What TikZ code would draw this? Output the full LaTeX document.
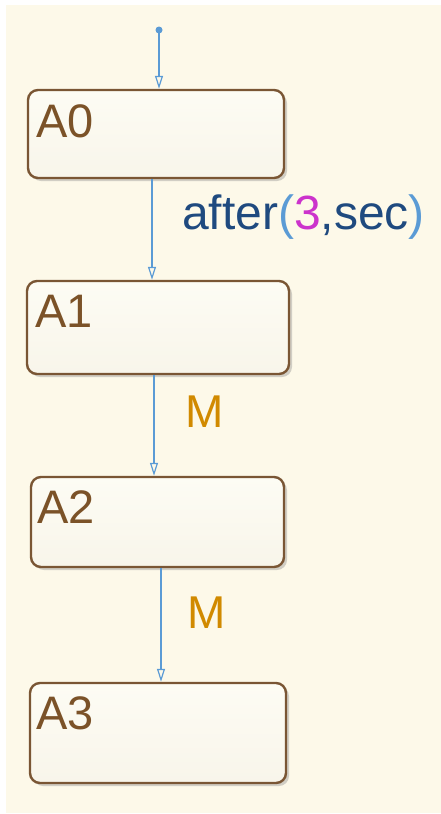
\documentclass[tikz,border=0pt]{standalone}
\usepackage{fontspec}
\setmainfont{Liberation Sans}
\usetikzlibrary{arrows.meta,shadows,calc}
\definecolor{bg}{HTML}{FDF9E9}
\definecolor{boxline}{HTML}{7A5634}
\definecolor{boxtop}{HTML}{FDFCF4}
\definecolor{boxbot}{HTML}{F8F5EA}
\definecolor{stxt}{HTML}{7B5228}
\definecolor{trans}{HTML}{5B9BD5}
\definecolor{lblue}{HTML}{1F4A7F}
\definecolor{lpar}{HTML}{5B9BD5}
\definecolor{lnum}{HTML}{CC33CC}
\definecolor{lorange}{HTML}{D18A00}
\tikzset{
  statebox/.style={draw=boxline, line width=2.4pt, rounded corners=10pt,
    top color=boxtop, bottom color=boxbot,
    drop shadow={opacity=0.35, shadow xshift=3pt, shadow yshift=-3pt},
    inner sep=0pt},
  statename/.style={anchor=base west, inner sep=0pt, text=stxt,
    font=\fontsize{47}{47}\selectfont},
  tr/.style={draw=trans, line width=1.4pt, -{Triangle[open, length=13pt, width=8pt, line width=1.2pt]}},
  tlabel/.style={anchor=base west, inner sep=0pt, font=\fontsize{46}{46}\selectfont}
}
\begin{document}
\begin{tikzpicture}[x=1pt, y=-1pt]
\useasboundingbox (0,0) rectangle (441,814);
\fill[white] (0,0) rectangle (441,814);
\fill[bg] (6,5) rectangle (441,813);
% states
\node[statebox, minimum width=256pt, minimum height=88pt] (a0) at (156,134) {};
\node[statebox, minimum width=262pt, minimum height=93pt] (a1) at (158,327.5) {};
\node[statebox, minimum width=253pt, minimum height=90pt] (a2) at (157.5,522) {};
\node[statebox, minimum width=256pt, minimum height=100pt] (a3) at (158,733) {};
\node[statename] (a0t) at (36,137) {A0};
\node[statename] (a1t) at (35,327) {A1};
\node[statename] (a2t) at (37,523) {A2};
\node[statename] (a3t) at (36,729) {A3};
% default transition
\node[circle, fill=trans, inner sep=0pt, minimum size=7pt] (dot) at (159,30) {};
\draw[tr] (dot.center) -- (159,0 |- a0.north);
% transitions
\draw[tr] (152,0 |- a0.south) -- (152,0 |- a1.north);
\draw[tr] (154,0 |- a1.south) -- (154,0 |- a2.north);
\draw[tr] (161,0 |- a2.south) -- (161,0 |- a3.north);
% labels
\node[tlabel, font=\fontsize{48}{48}\selectfont] (l1) at (182,229) {\textcolor{lblue}{after}\textcolor{lpar}{(}\textcolor{lnum}{3}\textcolor{lblue}{,sec}\textcolor{lpar}{)}};
\node[tlabel, text=lorange] (l2) at (185,427) {M};
\node[tlabel, text=lorange] (l3) at (187,628) {M};
\end{tikzpicture}
\end{document}
